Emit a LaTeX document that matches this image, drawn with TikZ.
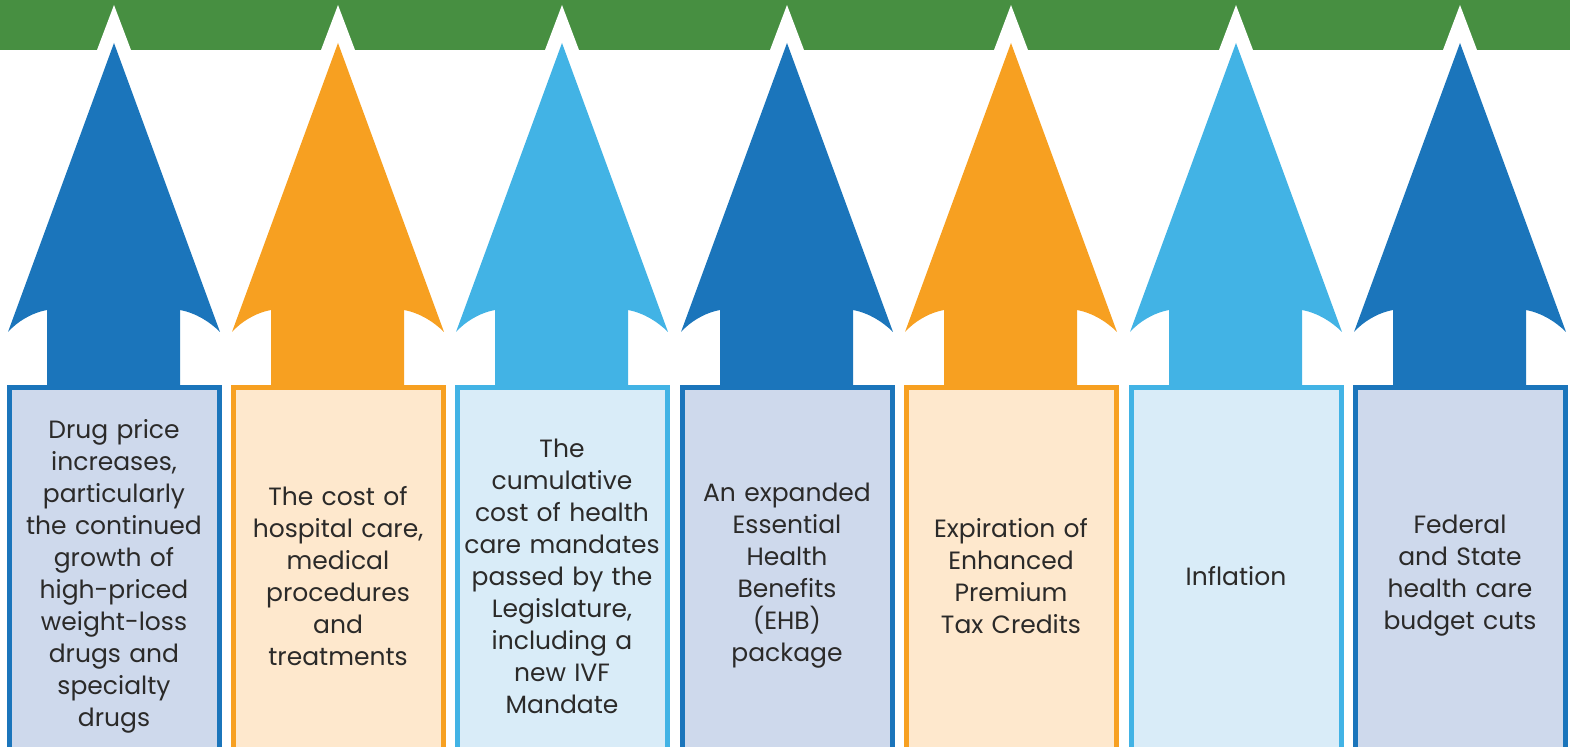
\documentclass[tikz,border=0pt]{standalone}
\usepackage{fontspec}
\setmainfont{Poppins}
\usepackage{tikz}
\definecolor{bannergreen}{HTML}{478F41}
\definecolor{deepblue}{HTML}{1B75BB}
\definecolor{sunorange}{HTML}{F7A021}
\definecolor{skyblue}{HTML}{42B3E5}
\definecolor{deepbluefill}{HTML}{CED9EC}
\definecolor{sunorangefill}{HTML}{FEE8CD}
\definecolor{skybluefill}{HTML}{D9ECF8}
\definecolor{inktext}{HTML}{2B2A29}
\def\notch(#1){\fill[white] (#1-17, 50) -- (#1, 5) -- (#1+17, 50) -- cycle;}
\def\bigarrow(#1)[#2]{\fill[color=#2] (#1, 43) -- (#1+106, 332) .. controls (#1+96, 322) and (#1+82, 313) .. (#1+66, 310) -- (#1+66, 392) -- (#1-67, 392) -- (#1-67, 310) .. controls (#1-83, 313) and (#1-97, 322) .. (#1-106, 332) -- cycle;}
\def\causebox(#1)[#2][#3]{\draw[line width=2.5pt, color=#2, fill=#3] (#1-104.5, 387.5) rectangle (#1+105, 800);}
\tikzset{
	cause/.style={align=center, text=inktext, text width=104pt, inner sep=0pt,
		font=\fontsize{12.5pt}{16pt}\selectfont}
}

\begin{document}
\begin{tikzpicture}[x=0.5pt, y=-0.5pt]
		%%%%% START %%%%%
		\useasboundingbox (0, 0) rectangle (1570, 747);
		
		\fill[bannergreen] (0, 0) rectangle (1570, 50);
		
		\notch(114) \notch(338) \notch(562) \notch(787)
		\notch(1011) \notch(1236) \notch(1460)
		
		\bigarrow(114)[deepblue]
		\bigarrow(338)[sunorange]
		\bigarrow(562)[skyblue]
		\bigarrow(787)[deepblue]
		\bigarrow(1011)[sunorange]
		\bigarrow(1236)[skyblue]
		\bigarrow(1460)[deepblue]
		
		\causebox(114)[deepblue][deepbluefill]
		\causebox(338)[sunorange][sunorangefill]
		\causebox(562)[skyblue][skybluefill]
		\causebox(787)[deepblue][deepbluefill]
		\causebox(1011)[sunorange][sunorangefill]
		\causebox(1236)[skyblue][skybluefill]
		\causebox(1460)[deepblue][deepbluefill]
		
		\node[cause] (drugs) at (114, 576) {Drug price\\increases,\\particularly\\the continued\\growth of\\high-priced\\weight-loss\\drugs and\\specialty\\drugs};
		\node[cause] (hospital) at (338, 576) {The cost of\\hospital care,\\medical\\procedures\\and\\treatments};
		\node[cause] (mandates) at (562, 576) {The\\cumulative\\cost of health\\care mandates\\passed by the\\Legislature,\\including a\\new IVF\\Mandate};
		\node[cause] (ehb) at (787, 576) {An expanded\\Essential\\Health\\Benefits\\(EHB)\\package};
		\node[cause] (credits) at (1011, 576) {Expiration of\\Enhanced\\Premium\\Tax Credits};
		\node[cause] (inflation) at (1236, 576) {Inflation};
		\node[cause] (cuts) at (1460, 576) {Federal\\and State\\health care\\budget cuts};
		
		%%%%% END %%%%%
	\end{tikzpicture}
\end{document}
